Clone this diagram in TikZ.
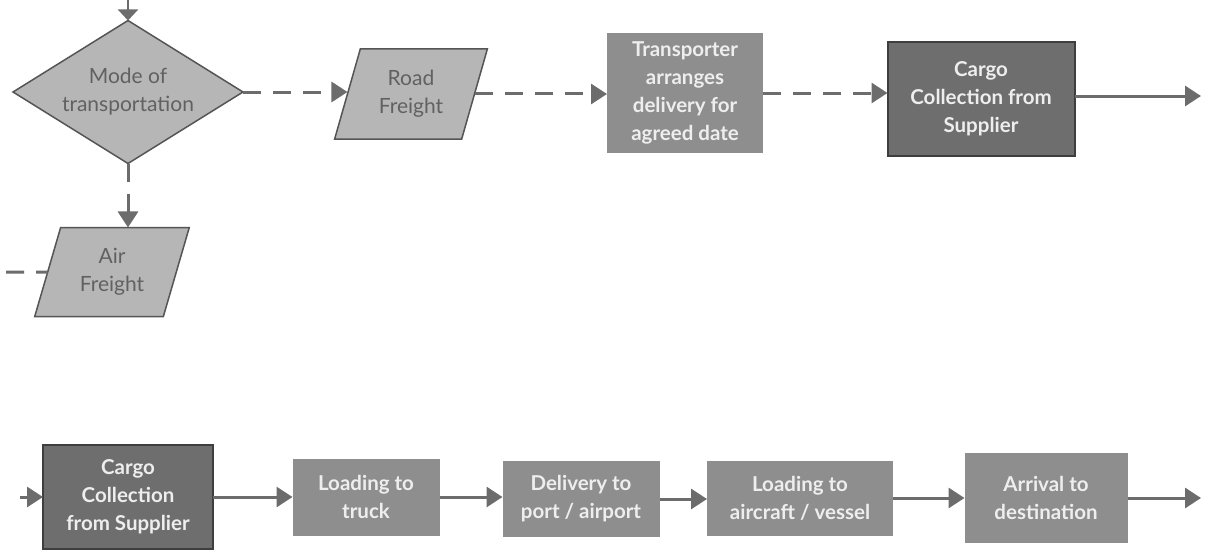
\documentclass[tikz,border=0pt]{standalone}
\usepackage{fontspec}
\setmainfont{Lato}
\usetikzlibrary{shapes.geometric,arrows.meta}

\definecolor{lightfill}{HTML}{B6B6B6}
\definecolor{lightedge}{HTML}{555555}
\definecolor{lighttext}{HTML}{616161}
\definecolor{midfill}{HTML}{8E8E8E}
\definecolor{darkfill}{HTML}{6E6E6E}
\definecolor{darkedge}{HTML}{3E3E3E}
\definecolor{boxtext}{HTML}{EEEEEE}
\definecolor{linkcol}{HTML}{6C6C6C}

\tikzset{
  base/.style={inner sep=0pt, outer sep=0pt, align=center,
    font=\fontsize{21}{28}\selectfont},
  decision/.style={base, shape=diamond, aspect=1.6, draw=lightedge,
    line width=1.5pt, fill=lightfill, text=lighttext},
  freight/.style={base, shape=trapezium, trapezium stretches=true,
    trapezium left angle=71, trapezium right angle=109,
    draw=lightedge, line width=1.5pt, fill=lightfill, text=lighttext},
  midbox/.style={base, rectangle, fill=midfill, text=boxtext,
    font=\fontsize{20.5}{28}\selectfont\bfseries},
  darkbox/.style={base, rectangle, fill=darkfill, draw=darkedge,
    line width=2pt, text=boxtext, font=\fontsize{20.5}{28}\selectfont\bfseries},
  link/.style={draw=linkcol, line width=3pt,
    -{Triangle[length=16pt,width=20pt]}},
  dashlink/.style={link, dash pattern=on 18pt off 12pt},
  plainlink/.style={draw=linkcol, line width=3pt},
}

\begin{document}
\begin{tikzpicture}[x=1pt,y=-1pt]
\useasboundingbox[fill=white] (0,0) rectangle (1205,551);

% upper route
\node[decision, minimum width=230pt, minimum height=143pt] (mode) at (128,92)
  {Mode of\\transportation};
\node[freight, minimum width=153pt, minimum height=90pt] (road) at (411,94)
  {Road\\Freight};
\node[midbox, minimum width=156pt, minimum height=120pt] (arrange) at (685,93)
  {Transporter\\arranges\\delivery for\\agreed date};
\node[darkbox, minimum width=187pt, minimum height=113pt] (collectA) at (981,99)
  {Cargo\\Collection from\\Supplier};
\node[freight, minimum width=155pt, minimum height=89pt] (air) at (112,272)
  {Air\\Freight};

% lower route
\node[darkbox, minimum width=170pt, minimum height=104pt] (collectB) at (128,497)
  {Cargo\\Collection\\from Supplier};
\node[midbox, minimum width=147pt, minimum height=77pt] (truck) at (366,497)
  {Loading to\\truck};
\node[midbox, minimum width=157pt, minimum height=76pt] (port) at (581,499)
  {Delivery to\\port / airport};
\node[midbox, minimum width=186pt, minimum height=75pt] (vessel) at (800,498)
  {Loading to\\aircraft / vessel};
\node[midbox, minimum width=163pt, minimum height=90pt] (arrival) at (1046,498)
  {Arrival to\\destination};

% loose ends
\coordinate (topin) at (128,0);
\coordinate (outA) at (1201,96);
\coordinate (airin) at (6,272);
\coordinate (inB) at (20,497);
\coordinate (outB) at (1201,498);

% connectors
\draw[draw=linkcol, line width=2pt, -{Triangle[length=11pt,width=20pt]}] (topin) -- (mode.north);
\draw[dashlink] (mode.east) -- (mode.east -| road.west);
\draw[dashlink] (road.east) -- (road.east -| arrange.west);
\draw[dashlink] (arrange.east) -- (arrange.east -| collectA.west);
\draw[link] (collectA.east |- outA) -- (outA);
\draw[dashlink] (mode.south) -- (mode.south |- air.north);
\draw[plainlink, dash pattern=on 18pt off 12pt] (airin) -- (air.west);

\draw[link] (inB) -- (collectB.west);
\draw[link] (collectB.east) -- (truck.west);
\draw[link] (truck.east) -- (truck.east -| port.west);
\draw[link] (port.east) -- (port.east -| vessel.west);
\draw[link] (vessel.east) -- (arrival.west);
\draw[link] (arrival.east) -- (outB);
\end{tikzpicture}
\end{document}
